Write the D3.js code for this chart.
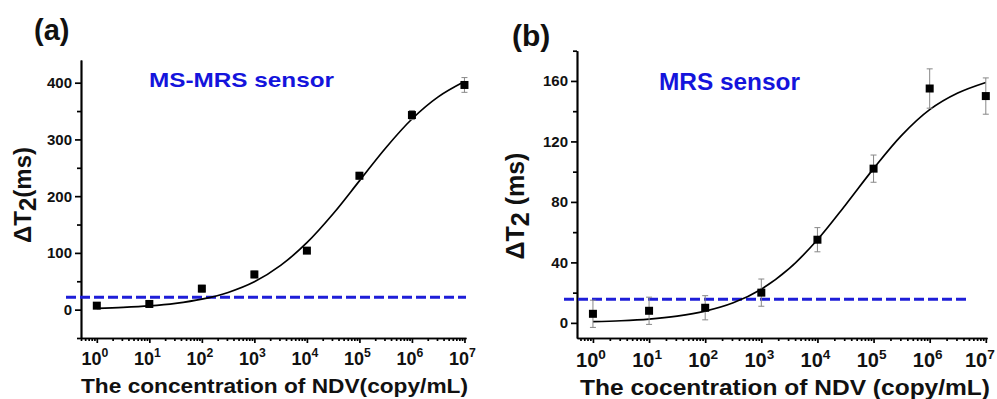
<!DOCTYPE html>
<html>
<head>
<meta charset="utf-8">
<script src="https://cdn.jsdelivr.net/npm/d3@7"></script>
<style>
  body { margin: 0; background: #fff; }
  svg { display: block; font-family: Arial, "Liberation Sans", sans-serif; font-weight: bold; }
</style>
</head>
<body>
<svg id="chart" width="997" height="399"></svg>
<script>
// NDV concentrations (copy/mL) for the measured points
const concentrations = [1e0, 1e1, 1e2, 1e3, 1e4, 1e5, 1e6, 1e7];
const decadeTicks = [0, 1, 2, 3, 4, 5, 6, 7];

// panel (a): MS-MRS sensor
const msmrsMean = [7, 10, 37, 62, 104, 236, 343, 396];
const msmrsErr = [5, 5, 6, 6, 5, 6, 8, 13];
const msmrsYTicks = [0, 100, 200, 300, 400];
const msmrsYMinor = [-50, 50, 150, 250, 350];
const msmrsLod = 22;

// panel (b): MRS sensor
const mrsMean = [6, 8, 10, 20, 55, 102, 155, 150];
const mrsErr = [9, 9, 8, 9, 8, 9, 13, 12];
const mrsYTicks = [0, 40, 80, 120, 160];
const mrsYMinor = [20, 60, 100, 140, 180];
const mrsLod = 15.6;

// fitted curves, every half decade
const fitLogConc = [0, 0.5, 1, 1.5, 2, 2.5, 3, 3.5, 4, 4.5, 5, 5.5, 6, 6.5, 7];
const msmrsFit = [2.3, 3.9, 6.5, 11, 18.4, 30.3, 49, 78, 118, 169, 227, 285, 336, 375, 402];
const mrsFit = [0.8, 1.4, 2.5, 4.5, 7.8, 13.3, 22.3, 36, 55, 78, 102, 124, 141, 152, 159];

const svg = d3.select("#chart");

function drawPanel(cfg) {
  const g = svg.append("g");
  const x = d3.scaleLog().domain(cfg.xDomain).range(cfg.xRange);
  const y = d3.scaleLinear().domain(cfg.yDomain).range(cfg.yRange);

  // minor log ticks
  const minor = [];
  for (let e = -1; e <= 7; e++) {
    for (let m = 2; m <= 9; m++) {
      const v = m * Math.pow(10, e);
      if (v >= cfg.xDomain[0] && v <= cfg.xDomain[1]) minor.push(v);
    }
  }
  const xAxisY = cfg.yRange[0];
  const xAxisMinor = d3.axisBottom(x).tickValues(minor).tickSize(3).tickSizeOuter(0).tickFormat("");
  const xAxisMajor = d3.axisBottom(x).tickValues(decadeTicks.map(d => Math.pow(10, d))).tickSize(5).tickSizeOuter(0).tickFormat("");
  [xAxisMinor, xAxisMajor].forEach(ax => {
    g.append("g").attr("transform", `translate(0,${xAxisY})`).call(ax)
      .call(s => s.selectAll("line,path").attr("stroke", "#000").attr("stroke-width", 1.7));
  });

  const yAxisMinor = d3.axisLeft(y).tickValues(cfg.yMinor).tickSize(4).tickSizeOuter(0).tickFormat("");
  const yAxisMajor = d3.axisLeft(y).tickValues(cfg.yTicks).tickSize(6).tickSizeOuter(0).tickFormat("");
  [yAxisMinor, yAxisMajor].forEach(ax => {
    g.append("g").attr("transform", `translate(${cfg.xRange[0]},0)`).call(ax)
      .call(s => s.selectAll("line,path").attr("stroke", "#000").attr("stroke-width", 1.7));
  });

  // y tick labels
  g.append("g").selectAll("text").data(cfg.yTicks).join("text")
    .attr("x", cfg.xRange[0] - 9)
    .attr("y", d => y(d) + 5.5)
    .attr("text-anchor", "end")
    .attr("font-size", cfg.yTickFont)
    .attr("fill", "#111")
    .text(d => d);

  // x tick labels as 10^n (last one nudged left so it stays inside the page)
  const xl = g.append("g").selectAll("text").data(decadeTicks).join("text")
    .attr("x", (d, i) => x(Math.pow(10, d)) - 2 - (i === decadeTicks.length - 1 ? cfg.lastShift : 0))
    .attr("y", cfg.xTickBase)
    .attr("text-anchor", "middle")
    .attr("font-size", cfg.xTickFont)
    .attr("fill", "#111");
  xl.append("tspan").text("10");
  xl.append("tspan").attr("dy", -cfg.xTickFont * 0.42).attr("font-size", cfg.xTickFont * 0.68).text(d => d);

  // LOD dashed line
  g.append("line")
    .attr("x1", cfg.lodX[0]).attr("x2", cfg.lodX[1])
    .attr("y1", y(cfg.lod)).attr("y2", y(cfg.lod))
    .attr("stroke", "#1e1ed8").attr("stroke-width", 3)
    .attr("stroke-dasharray", "10,4");

  // fitted curve
  const line = d3.line()
    .x((d, i) => x(Math.pow(10, fitLogConc[i])))
    .y(d => y(d))
    .curve(d3.curveCatmullRom);
  g.append("path").datum(cfg.fit)
    .attr("d", line)
    .attr("fill", "none").attr("stroke", "#000").attr("stroke-width", 1.7);

  // error bars
  const pts = concentrations.map((c, i) => ({ c: c, v: cfg.mean[i], e: cfg.err[i] }));
  const eb = g.append("g").attr("stroke", "#888").attr("stroke-width", 1);
  eb.selectAll("line.v").data(pts).join("line").attr("class", "v")
    .attr("x1", d => x(d.c)).attr("x2", d => x(d.c))
    .attr("y1", d => y(d.v - d.e)).attr("y2", d => y(d.v + d.e));
  eb.selectAll("line.t").data(pts).join("line").attr("class", "t")
    .attr("x1", d => x(d.c) - 3).attr("x2", d => x(d.c) + 3)
    .attr("y1", d => y(d.v + d.e)).attr("y2", d => y(d.v + d.e));
  eb.selectAll("line.b").data(pts).join("line").attr("class", "b")
    .attr("x1", d => x(d.c) - 3).attr("x2", d => x(d.c) + 3)
    .attr("y1", d => y(d.v - d.e)).attr("y2", d => y(d.v - d.e));

  // square markers
  g.append("g").selectAll("rect").data(pts).join("rect")
    .attr("x", d => x(d.c) - 4).attr("y", d => y(d.v) - 4)
    .attr("width", 8).attr("height", 8)
    .attr("fill", "#000");

  // panel letter
  g.append("text")
    .attr("x", cfg.letterPos[0]).attr("y", cfg.letterPos[1])
    .attr("font-size", cfg.letterFont).attr("fill", "#111")
    .text(cfg.letter);

  // sensor label
  g.append("text")
    .attr("x", cfg.labelPos[0]).attr("y", cfg.labelPos[1])
    .attr("font-size", cfg.labelFont).attr("fill", "#1414dc")
    .attr("textLength", cfg.labelWidth).attr("lengthAdjust", "spacingAndGlyphs")
    .text(cfg.label);

  // x axis title
  g.append("text")
    .attr("x", cfg.xTitlePos[0]).attr("y", cfg.xTitlePos[1])
    .attr("font-size", cfg.xTitleFont).attr("fill", "#111")
    .attr("textLength", cfg.xTitleWidth).attr("lengthAdjust", "spacingAndGlyphs")
    .text(cfg.xTitle);

  // y axis title with subscript
  const yt = g.append("text")
    .attr("transform", `translate(${cfg.yTitlePos[0]},${cfg.yTitlePos[1]}) rotate(-90)`)
    .attr("text-anchor", "middle")
    .attr("font-size", cfg.yTitleFont).attr("fill", "#111");
  yt.append("tspan").text("ΔT");
  yt.append("tspan").attr("dy", 5).text("2");
  yt.append("tspan").attr("dy", -5).text(cfg.yTitleUnit);
}

drawPanel({
  xDomain: [0.5, 1.07e7], xRange: [81, 466],
  yDomain: [-50, 440], yRange: [338, 60],
  yTicks: msmrsYTicks, yMinor: msmrsYMinor,
  mean: msmrsMean, err: msmrsErr, fit: msmrsFit,
  lod: msmrsLod, lodX: [66, 466],
  yTickFont: 15, xTickFont: 18, xTickBase: 365, lastShift: 0,
  letter: "(a)", letterPos: [34, 40], letterFont: 29,
  label: "MS-MRS sensor", labelPos: [149, 87], labelFont: 21, labelWidth: 185,
  xTitle: "The concentration of NDV(copy/mL)", xTitlePos: [81, 393], xTitleFont: 21, xTitleWidth: 387,
  yTitleUnit: "(ms)", yTitlePos: [31, 195], yTitleFont: 24
});

drawPanel({
  xDomain: [0.52, 1.05e7], xRange: [577, 987],
  yDomain: [-10, 180], yRange: [338, 50.7],
  yTicks: mrsYTicks, yMinor: mrsYMinor,
  mean: mrsMean, err: mrsErr, fit: mrsFit,
  lod: mrsLod, lodX: [564, 966],
  yTickFont: 15, xTickFont: 20, xTickBase: 367, lastShift: 4,
  letter: "(b)", letterPos: [512, 46], letterFont: 30,
  label: "MRS sensor", labelPos: [659, 90], labelFont: 23, labelWidth: 141,
  xTitle: "The cocentration of NDV (copy/mL)", xTitlePos: [580, 395], xTitleFont: 22, xTitleWidth: 410,
  yTitleUnit: " (ms)", yTitlePos: [524, 206], yTitleFont: 25
});
</script>
</body>
</html>
